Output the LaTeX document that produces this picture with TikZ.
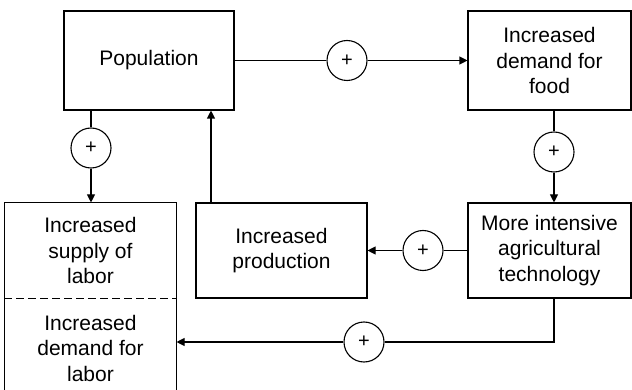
\documentclass[tikz,border=0pt]{standalone}
\usepackage{fontspec}
\setmainfont{Liberation Sans}
\usetikzlibrary{arrows.meta}
\begin{document}
\begin{tikzpicture}[x=1pt,y=-1pt,line width=1.1pt,
  box/.style={draw,rectangle,align=center,inner sep=0pt,font=\fontsize{21}{25.5}\selectfont},
  plain/.style={rectangle,align=center,inner sep=0pt,font=\fontsize{21}{25.5}\selectfont},
  sign/.style={draw,circle,minimum size=40pt,inner sep=0pt,font=\fontsize{20}{24}\selectfont},
  arr/.style={-{Triangle[length=8pt,width=8pt]}}]
\useasboundingbox (0,0) rectangle (632,390);
\node[box,minimum width=170pt,minimum height=99pt] (pop) at (149,60.5) {Population};
\node[box,minimum width=163pt,minimum height=99pt] (food) at (549.5,60.5) {Increased\\demand for\\food};
\node[box,minimum width=163pt,minimum height=95pt] (tech) at (549.5,250.5) {More intensive\\agricultural\\technology};
\node[box,minimum width=171pt,minimum height=95pt] (prod) at (281.5,250.5) {Increased\\production};
\node[plain,minimum width=171pt,minimum height=95pt] (supply) at (90.5,250.5) {Increased\\supply of\\labor};
\node[plain,minimum width=171pt,minimum height=100pt] (demand) at (90.5,348) {Increased\\demand for\\labor};
\draw (supply.south west) |- (supply.north east) |- (demand.south west) -- cycle;
\draw[dash pattern=on 8pt off 4pt] (supply.south west) -- (supply.south east);
\node[sign] (c1) at (347,60.5) {+};
\node[sign] (c2) at (91,148) {+};
\node[sign] (c3) at (554,152) {+};
\node[sign] (c4) at (423,250.5) {+};
\node[sign] (c5) at (364,342) {+};
\coordinate (u) at (211,0);
\coordinate (k) at (554,342);
\draw (pop.east) -- (c1);
\draw[arr] (c1) -- (food.west);
\draw (c2 |- pop.south) -- (c2);
\draw[arr] (c2) -- (c2 |- supply.north);
\draw[arr] (u |- prod.north) -- (u |- pop.south);
\draw (c3 |- food.south) -- (c3);
\draw[arr] (c3) -- (c3 |- tech.north);
\draw (tech.west) -- (c4);
\draw[arr] (c4) -- (prod.east);
\draw (k |- tech.south) -- (k) -- (c5);
\draw[arr] (c5) -- (supply.east |- c5);
\end{tikzpicture}
\end{document}
